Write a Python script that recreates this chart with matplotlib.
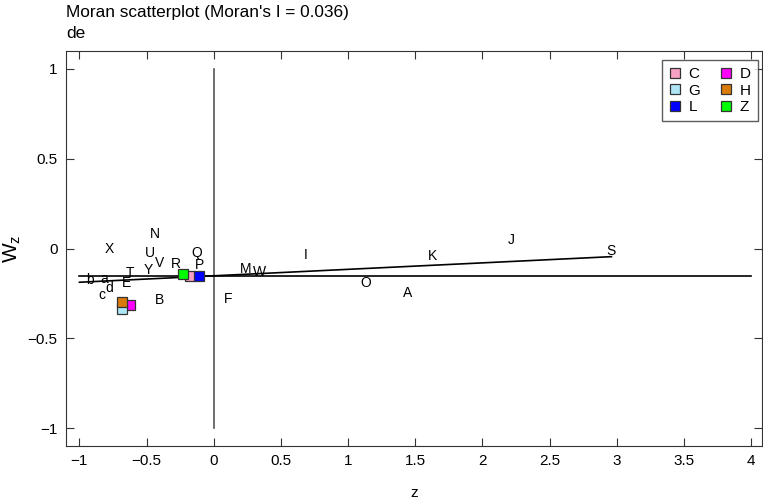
import numpy as np
import matplotlib.pyplot as plt

plt.rcParams['font.family'] = ['Liberation Sans', 'DejaVu Sans']

# etiquetas y coordenadas (z, Wz)
labels = ['X', 'N', 'U', 'V', 'Y', 'T', 'R', 'Q', 'P', 'b', 'a', 'E', 'd', 'c',
          'B', 'F', 'M', 'W', 'I', 'K', 'J', 'S', 'O', 'A']
z = [-0.78, -0.435, -0.478, -0.406, -0.49, -0.62, -0.28, -0.126, -0.107, -0.925,
     -0.815, -0.65, -0.778, -0.832, -0.404, 0.109, 0.24, 0.339, 0.683, 1.627,
     2.214, 2.96, 1.131, 1.441]
wz = [0.0, 0.079, -0.024, -0.08, -0.12, -0.137, -0.085, -0.024, -0.093, -0.174,
      -0.172, -0.19, -0.22, -0.26, -0.288, -0.279, -0.116, -0.13, -0.037, -0.039,
      0.045, -0.015, -0.19, -0.248]

# puntos resaltados con cuadrados de color
sq_labels = ['C', 'D', 'G', 'H', 'L', 'Z']
sq_z = [-0.174, -0.627, -0.684, -0.684, -0.111, -0.23]
sq_wz = [-0.155, -0.316, -0.335, -0.298, -0.155, -0.14]
sq_colors = ['#f7a1c4', '#ff00ff', '#aee6f5', '#d97a0b', '#0000ff', '#00ff00']

# estadisticos del grafico
moran_i = 0.036
mean_z = 0.0
mean_wz = -0.152

xticks = [-1, -0.5, 0, 0.5, 1, 1.5, 2, 2.5, 3, 3.5, 4]
yticks = [-1, -0.5, 0, 0.5, 1]

fig = plt.figure(figsize=(7.63, 5.03), dpi=100)
ax = fig.add_axes([0.0865, 0.1133, 0.912, 0.7853])

# lineas de referencia
ax.plot([mean_z, mean_z], [-1, 1], color='#555555', lw=1.2)
ax.plot([-1, 4], [mean_wz, mean_wz], color='black', lw=1.2)
# recta de regresion (pendiente = I de Moran)
xr = np.array([-1, max(z + sq_z)])
ax.plot(xr, mean_wz + moran_i * (xr - mean_z), color='black', lw=1.2)

for lab, x, y in zip(labels, z, wz):
    ax.text(x, y, lab, ha='center', va='center', fontsize=10)

handles = {}
for lab, x, y, c in zip(sq_labels, sq_z, sq_wz, sq_colors):
    handles[lab], = ax.plot(x, y, 's', ms=7, mfc=c, mec='#333333', mew=0.9,
                            label=lab, ls='none')

ax.set_xlim(-1.1, 4.08)
ax.set_ylim(-1.1, 1.1)
ax.set_xticks(xticks)
ax.set_xticklabels(['\u22121', '\u22120.5', '0', '0.5', '1', '1.5', '2', '2.5', '3', '3.5', '4'])
ax.set_yticks(yticks)
ax.set_yticklabels(['\u22121', '\u22120.5', '0', '0.5', '1'])
ax.tick_params(direction='in', length=6, top=True, right=True, labelsize=11,
               color='#333333', pad=6)
for s in ax.spines.values():
    s.set_color('#333333')

ax.set_xlabel('z', fontsize=11)
ax.xaxis.set_label_coords(0.5, -0.1)
ax.set_ylabel('W$_\\mathregular{z}$', fontsize=15)
ax.yaxis.set_label_coords(-0.062, 0.5)

fig.text(0.0865, 1 - 13 / 503, "Moran scatterplot (Moran's I = %.3f)" % moran_i,
         fontsize=12.4, va='center', ha='left')
fig.text(0.0865, 1 - 34 / 503, 'de', fontsize=12.4, va='center', ha='left')

# leyenda en orden por filas: C D / G H / L Z
order = ['C', 'G', 'L', 'D', 'H', 'Z']
ax.legend([handles[k] for k in order], order, loc='upper right', ncol=2,
          fontsize=11, frameon=True, fancybox=False, edgecolor='#333333',
          handlelength=0.8, handletextpad=0.5, columnspacing=1.3,
          borderpad=0.45, labelspacing=0.18, borderaxespad=0,
          bbox_to_anchor=(0.994, 0.977))

fig.savefig('out.png', dpi=100)
